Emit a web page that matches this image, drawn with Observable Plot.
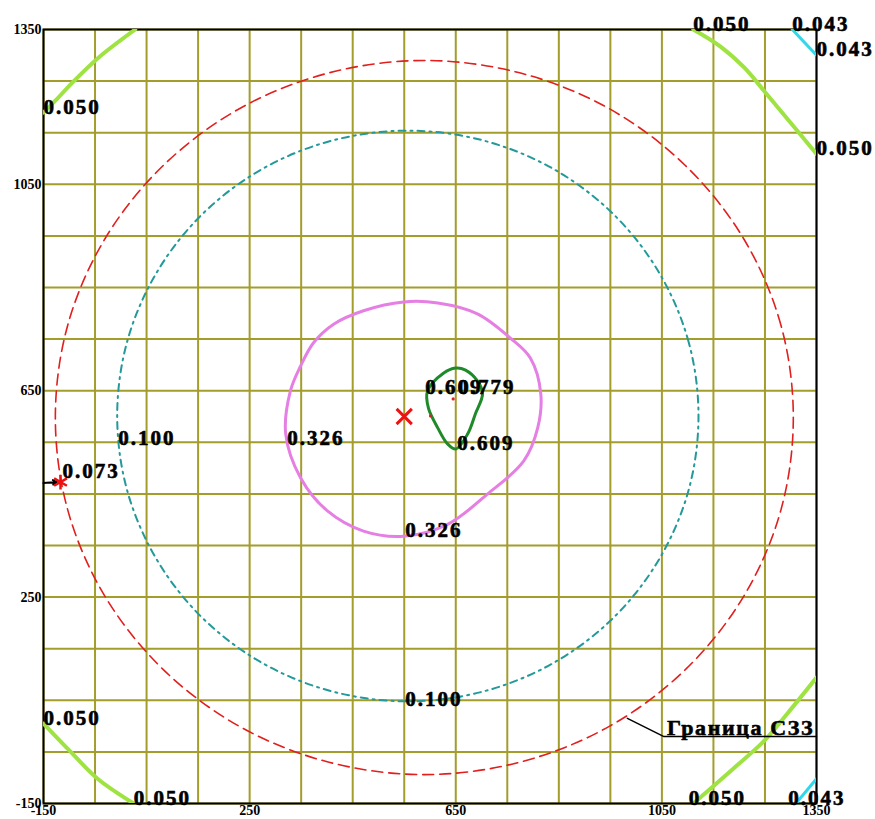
<!DOCTYPE html>
<html>
<head>
<meta charset="utf-8">
<script src="https://cdn.jsdelivr.net/npm/d3@7"></script>
<script src="https://cdn.jsdelivr.net/npm/@observablehq/plot@0.6"></script>
<style>
  html, body { margin: 0; padding: 0; background: #fff; }
  svg { display: block; }
</style>
</head>
<body>
<div id="chart"></div>
<script>
// Axis tick labels (metres, local grid)
const tickValues = [-150, 250, 650, 1050, 1350];

// Sanitary protection zone boundary (СЗЗ), points [x, y]
const szzBoundary = [
  [1305, 598], [1281, 777], [1209, 944], [1095, 1087], [947, 1197], [774, 1266],
  [589, 1290], [404, 1266], [231, 1197], [83, 1087], [-31, 944], [-103, 777],
  [-127, 598], [-103, 419], [-31, 252], [83, 109], [231, -1], [404, -70],
  [589, -94], [774, -70], [947, -1], [1095, 109], [1209, 252], [1281, 419]
];

// Isoline 0.100
const iso100 = [
  [1121, 601], [1102, 744], [1045, 878], [956, 992], [839, 1080], [703, 1135],
  [557, 1154], [411, 1135], [275, 1080], [158, 992], [69, 878], [12, 744],
  [-7, 601], [12, 458], [69, 324], [158, 210], [275, 122], [411, 67],
  [557, 48], [703, 67], [839, 122], [956, 210], [1045, 324], [1102, 458]
];

// Isoline 0.326
const iso326 = [
  [549, 822], [471, 805], [413, 779], [374, 743], [349, 698], [329, 649],
  [320, 566], [349, 481], [401, 417], [471, 378], [549, 368], [634, 391],
  [712, 450], [782, 514], [809, 578], [815, 644], [795, 713], [756, 752],
  [692, 799], [615, 820]
];

// Isoline 0.609
const iso609 = [
  [650, 694], [626, 684], [595, 649], [597, 616], [615, 578], [634, 547],
  [650, 537], [673, 566], [688, 605], [702, 644], [692, 669], [669, 690]
];

// Isoline 0.050 pieces in the four corners
const iso050 = [
  [[28, 1350], [-45, 1294], [-94, 1247], [-127, 1212], [-150, 1189]],
  [[1111, 1350], [1165, 1316], [1210, 1276], [1250, 1229], [1290, 1181], [1330, 1133], [1350, 1109]],
  [[-150, 5], [-98, -49], [-45, -102], [25, -150]],
  [[1350, 94], [1294, 25], [1247, -30], [1189, -82], [1111, -150]]
];

// Isoline 0.043 pieces
const iso043 = [
  [[1303, 1350], [1350, 1300]],
  [[1350, -102], [1310, -150]]
];

// Isoline value labels [x, y, text]
const isoLabels = [
  [-150, 1189, "0.050"], [1111, 1350, "0.050"], [1350, 1109, "0.050"],
  [1303, 1350, "0.043"], [1350, 1300, "0.043"],
  [-150, 5, "0.050"], [25, -150, "0.050"], [1102, -150, "0.050"], [1295, -150, "0.043"],
  [-5, 547, "0.100"], [552, 40, "0.100"],
  [323, 547, "0.326"], [552, 368, "0.326"],
  [591, 646, "0.609"], [655, 646, "0.779"], [653, 537, "0.609"],
  [-113, 482, "0.073"]
];

// Emission source and control point
const sources = [[550, 600]];
const controlPoints = [[-117, 473]];
const maxPoints = [[645, 634], [601, 601]];

// Leader line for the zone boundary caption
const szzLeader = [[983, 15], [1053, -20], [1350, -20]];
const szzCaption = [[1060, -20, "Граница СЗЗ"]];

const serif = "'Liberation Serif', 'Times New Roman', serif";
const gridValues = d3.range(-150, 1351, 100);

const segs = (arr, name) => arr.flatMap((pts, i) => pts.map(([x, y]) => ({x, y, k: name + i})));
const pts = (arr) => arr.map(([x, y]) => ({x, y}));

const labelStyle = {textAnchor: "start", lineAnchor: "bottom", fontWeight: "bold", fill: "black", stroke: "black", strokeWidth: 0.6, fontFamily: serif};

const chart = Plot.plot({
  width: 875,
  height: 819,
  marginLeft: 43,
  marginRight: 59,
  marginTop: 29,
  marginBottom: 16,
  style: {fontFamily: serif, fontWeight: "bold", fontSize: "14px", color: "black", background: "white", overflow: "visible"},
  x: {domain: [-150, 1350], axis: null},
  y: {domain: [-150, 1350], axis: null},
  marks: [
    Plot.ruleX(gridValues, {stroke: "#a39d2c", strokeWidth: 2}),
    Plot.ruleY(gridValues, {stroke: "#a39d2c", strokeWidth: 2}),
    Plot.frame({stroke: "black", strokeWidth: 2}),
    Plot.line(pts(szzBoundary), {x: "x", y: "y", curve: "catmull-rom-closed", stroke: "#e0201e", strokeWidth: 1.6, strokeDasharray: "11,6"}),
    Plot.line(pts(iso100), {x: "x", y: "y", curve: "catmull-rom-closed", stroke: "#23999a", strokeWidth: 2, strokeDasharray: "7,5,2,5"}),
    Plot.line(pts(iso326), {x: "x", y: "y", curve: "catmull-rom-closed", stroke: "#e57fe3", strokeWidth: 3}),
    Plot.line(pts(iso609), {x: "x", y: "y", curve: "catmull-rom-closed", stroke: "#1f8a2a", strokeWidth: 3}),
    Plot.line(segs(iso050, "a"), {x: "x", y: "y", z: "k", curve: "catmull-rom", stroke: "#9ee342", strokeWidth: 4, clip: true}),
    Plot.line(segs(iso043, "b"), {x: "x", y: "y", z: "k", stroke: "#30d8ea", strokeWidth: 3, clip: true}),
    Plot.line(pts(szzLeader), {x: "x", y: "y", stroke: "black", strokeWidth: 1.5}),
    Plot.arrow([{x1: -150, y1: 471, x2: -124, y2: 473}], {x1: "x1", y1: "y1", x2: "x2", y2: "y2", stroke: "black", strokeWidth: 2, headLength: 6}),
    Plot.dot(pts(maxPoints), {x: "x", y: "y", r: 1.6, fill: "#e0201e"}),
    Plot.dot(pts(sources), {x: "x", y: "y", symbol: "times", r: 7, stroke: "#ee1111", strokeWidth: 3}),
    Plot.dot(pts(controlPoints), {x: "x", y: "y", symbol: "asterisk", r: 7, stroke: "#ee1111", strokeWidth: 2.5}),
    Plot.text(isoLabels, {x: d => d[0], y: d => d[1], text: d => d[2], dy: 1, fontSize: 21, ...labelStyle}),
    Plot.text(szzCaption, {x: d => d[0], y: d => d[1], text: d => d[2], dy: -1, fontSize: 22, ...labelStyle}),
    Plot.axisX(tickValues, {anchor: "bottom", tickSize: 0, tickPadding: 2, fontSize: 14, fontWeight: "bold", fontFamily: serif, tickFormat: d => String(d)}),
    Plot.axisY(tickValues, {anchor: "left", tickSize: 0, tickPadding: 2, fontSize: 14, fontWeight: "bold", fontFamily: serif, tickFormat: d => String(d)})
  ]
});

// Wider letter spacing for the large labels
d3.select(chart).selectAll("text").each(function () {
  const fs = +this.closest("g").getAttribute("font-size");
  if (fs === 21) this.setAttribute("letter-spacing", "2");
  if (fs === 22) this.setAttribute("letter-spacing", "1.6");
});

document.getElementById("chart").appendChild(chart);
</script>
</body>
</html>
